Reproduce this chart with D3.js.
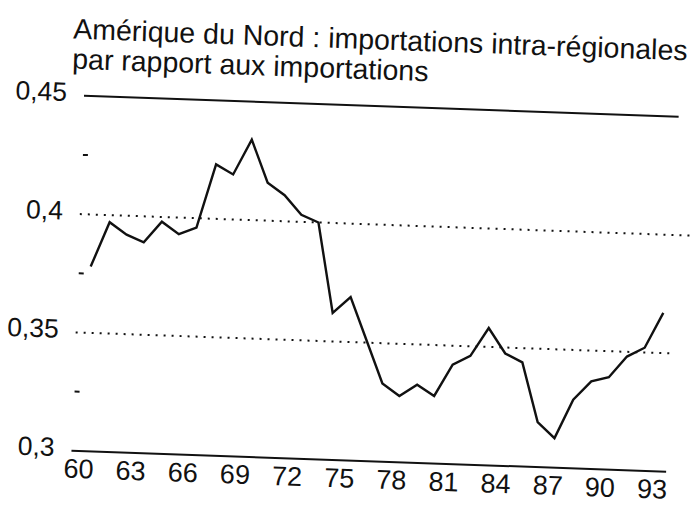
<!DOCTYPE html>
<html>
<head>
<meta charset="utf-8">
<script src="https://cdn.jsdelivr.net/npm/d3@7"></script>
<style>
  body { margin: 0; background: #fff; }
  text { font-family: "Liberation Sans", Arial, sans-serif; fill: #111; }
</style>
</head>
<body>
<div id="chart"></div>
<script>
// data
const years = d3.range(1960, 1994);
const ratio = [0.378, 0.397, 0.392, 0.389, 0.398, 0.393, 0.396, 0.423, 0.419, 0.434,
               0.416, 0.411, 0.403, 0.400, 0.362, 0.369, 0.351, 0.333, 0.328, 0.333,
               0.3285, 0.342, 0.346, 0.358, 0.3475, 0.344, 0.319, 0.3125, 0.329, 0.337,
               0.339, 0.348, 0.352, 0.367];
const xTicks = [60, 63, 66, 69, 72, 75, 78, 81, 84, 87, 90, 93];
const yLabels = [0.45, 0.4, 0.35, 0.3];
const solidLevels = [0.45, 0.3];
const dottedLevels = [0.4, 0.35];
const minorTicks = [0.425, 0.375, 0.325];
const titleLines = ["Amérique du Nord : importations intra-régionales",
                    "par rapport aux importations"];

const width = 695, height = 505;
const svg = d3.select("#chart").append("svg")
    .attr("width", width)
    .attr("height", height);

// the scan is tilted about 2 degrees clockwise
const g = svg.append("g")
    .attr("transform", "rotate(2.02, 83, 95.7)");

const x = d3.scaleLinear().domain([1960, 1993]).range([96.7, 670.6]);
const y = d3.scaleLinear().domain([0.3, 0.45]).range([450.9, 95.7]);

// title
g.selectAll(".title")
    .data(titleLines)
    .join("text")
    .attr("class", "title")
    .attr("x", 71)
    .attr("y", (d, i) => 39 + i * 30)
    .attr("font-size", 28.5)
    .text(d => d);

// solid lines at 0.45 and 0.3
g.selectAll(".solid")
    .data(solidLevels)
    .join("line")
    .attr("x1", 84).attr("x2", 679)
    .attr("y1", d => y(d)).attr("y2", d => y(d))
    .attr("stroke", "#111")
    .attr("stroke-width", 2);

// dotted lines at 0.4 and 0.35
g.selectAll(".dotted")
    .data(dottedLevels)
    .join("line")
    .attr("x1", 84).attr("x2", (d, i) => i == 0 ? 700 : 680)
    .attr("y1", d => y(d)).attr("y2", d => y(d))
    .attr("stroke", "#111")
    .attr("stroke-width", 2)
    .attr("stroke-dasharray", "2,6");

// small marks between the labels
g.selectAll(".minor")
    .data(minorTicks)
    .join("line")
    .attr("x1", 85).attr("x2", 90)
    .attr("y1", d => y(d)).attr("y2", d => y(d))
    .attr("stroke", "#111")
    .attr("stroke-width", 2);

// y labels
g.selectAll(".ylab")
    .data(yLabels)
    .join("text")
    .attr("x", 67)
    .attr("y", d => y(d) + 6)
    .attr("text-anchor", "end")
    .attr("font-size", 26.5)
    .text(d => String(d).replace(".", ","));

// x labels
g.selectAll(".xlab")
    .data(xTicks)
    .join("text")
    .attr("x", d => x(1900 + d) - 5)
    .attr("y", 478)
    .attr("text-anchor", "middle")
    .attr("font-size", 27)
    .text(d => d);

// data line
g.append("path")
    .datum(years.map((yr, i) => [yr, ratio[i]]))
    .attr("fill", "none")
    .attr("stroke", "#111")
    .attr("stroke-width", 2.4)
    .attr("stroke-linejoin", "miter")
    .attr("d", d3.line()
        .x(d => x(d[0]))
        .y(d => y(d[1]))
    );
</script>
</body>
</html>
